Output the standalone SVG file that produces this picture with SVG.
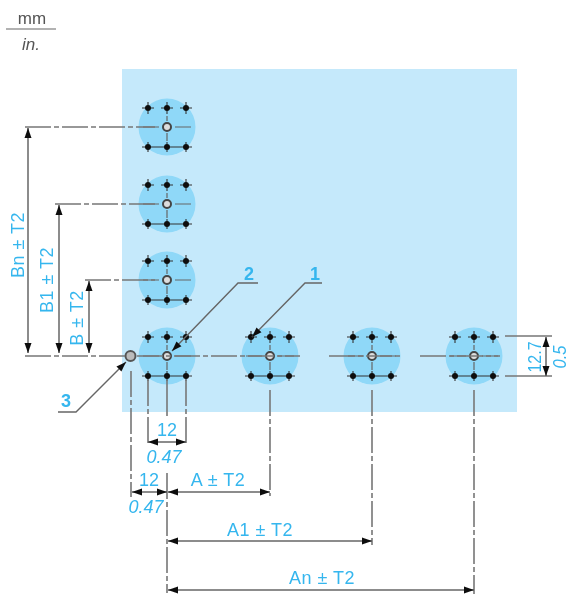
<svg xmlns="http://www.w3.org/2000/svg" width="569" height="595" viewBox="0 0 569 595">
<style>
text{font-family:"Liberation Sans",Arial,sans-serif;font-size:18px;fill:#35b6ee;text-anchor:middle}
.sp{letter-spacing:.5px}
.it{font-style:italic}
.b{font-weight:bold}
.k{fill:#555;font-size:17px}
.dim{stroke:#666;stroke-width:1.5;fill:none}
.ext{stroke:#777;stroke-width:1.6;fill:none;stroke-dasharray:26 3 5 3}
.sol{stroke:#777;stroke-width:1.6;fill:none}
.lead{stroke:#666;stroke-width:1.4;fill:none}
</style>
<defs>
<filter id="soft" x="-5%" y="-5%" width="110%" height="110%"><feGaussianBlur stdDeviation="0.7"/></filter>
<marker id="a" markerWidth="12" markerHeight="8" refX="10" refY="4" orient="auto-start-reverse" markerUnits="userSpaceOnUse"><path d="M0,.5 L10,4 L0,7.500 Z" fill="#111"/></marker>
<g id="hole">
<circle r="28.5" fill="#8fd8f8"/>
<path d="M0,-11V-6M0,6V14M-24,0H-8M8,0H24" stroke="#666" stroke-width="1.2" fill="none"/>
<path d="M-25,20H25M-19,-25V-13M0,-25V-13M19,-25V-13M-25,-19H-13M-6,-19H6M13,-19H25M-19,15V25M0,15V25M19,15V25" stroke="#333" stroke-width="1.1" fill="none"/>
<g fill="#111"><circle cx="-19" cy="-19" r="3"/><circle cy="-19" r="3"/><circle cx="19" cy="-19" r="3"/><circle cx="-19" cy="20" r="3"/><circle cy="20" r="3"/><circle cx="19" cy="20" r="3"/></g>
<circle r="4" fill="#ddd" stroke="#444" stroke-width="2"/>
</g>
</defs>
<g filter="url(#soft)">
<g id="panel"><rect x="122" y="69" width="395" height="343" fill="#c5e9fb"/></g>
<g id="units"><text class="k" x="32" y="24">mm</text><path d="M6,29H56" stroke="#999" stroke-width="1.4"/><text class="k it" x="31" y="50">in.</text></g>
<g id="node-bn"><use href="#hole" x="167" y="127"/></g>
<g id="node-b1"><use href="#hole" x="167" y="204"/></g>
<g id="node-b"><use href="#hole" x="167" y="280"/></g>
<g id="node-origin"><use href="#hole" x="167" y="356"/></g>
<g id="node-a"><use href="#hole" x="270" y="356"/></g>
<g id="node-a1"><use href="#hole" x="372" y="356"/></g>
<g id="node-an"><use href="#hole" x="474" y="356"/></g>
<g id="node-ref"><circle cx="130.500" cy="356" r="5" fill="#bbb" stroke="#555" stroke-width="2"/></g>
<g id="connectors">
<path class="ext" d="M25,127H155M55,204H155M85,280H155M25,356H126M137,356H300M329,356H402M420,356H500M131,371V497M148,380V446M186,380V446M167,473V593M270,390V496M372,390V545M474,390V594"/>
<path class="sol" d="M167,380V416M505,336H552M505,376H552"/>
<path class="dim" marker-start="url(#a)" marker-end="url(#a)" d="M28,128V353"/>
<path class="dim" marker-start="url(#a)" marker-end="url(#a)" d="M59,205V353"/>
<path class="dim" marker-start="url(#a)" marker-end="url(#a)" d="M89,281V353"/>
<path class="dim" marker-start="url(#a)" marker-end="url(#a)" d="M148,442H186"/>
<path class="dim" marker-start="url(#a)" marker-end="url(#a)" d="M132,492H167"/>
<path class="dim" marker-start="url(#a)" marker-end="url(#a)" d="M168,492H270"/>
<path class="dim" marker-start="url(#a)" marker-end="url(#a)" d="M168,541H372"/>
<path class="dim" marker-start="url(#a)" marker-end="url(#a)" d="M168,590H474"/>
<path class="dim" marker-start="url(#a)" marker-end="url(#a)" d="M546,337V376"/>
<path class="lead" marker-end="url(#a)" d="M258,283H238L172,351"/>
<path class="lead" marker-end="url(#a)" d="M322,283H305L252,337"/>
<path class="lead" marker-end="url(#a)" d="M58,412H76L126,362"/>
</g>
<g id="labels">
<text class="sp" transform="translate(24,245) rotate(-90)">Bn ± T2</text>
<text class="sp" transform="translate(53,280) rotate(-90)">B1 ± T2</text>
<text class="sp" transform="translate(83,318) rotate(-90)">B ± T2</text>
<text class="b" x="249" y="280">2</text>
<text class="b" x="315" y="280">1</text>
<text class="b" x="66" y="407">3</text>
<text x="167" y="436">12</text>
<text class="it" x="164" y="463">0.47</text>
<text x="149" y="486">12</text>
<text class="it" x="146" y="513">0.47</text>
<text class="sp" x="218" y="486">A ± T2</text>
<text class="sp" x="260" y="536">A1 ± T2</text>
<text class="sp" x="322" y="584">An ± T2</text>
<text transform="translate(541,357) rotate(-90)" textLength="31" lengthAdjust="spacingAndGlyphs">12.7</text>
<text class="it" transform="translate(566,357) rotate(-90)" textLength="23" lengthAdjust="spacingAndGlyphs">0.5</text>
</g>
</g>
</svg>
